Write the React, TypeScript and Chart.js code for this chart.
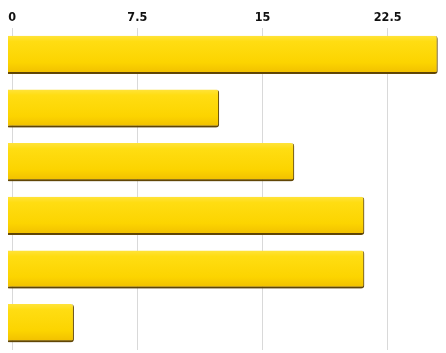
import React, { useEffect, useRef } from "react";
import { Chart, registerables } from "chart.js";

Chart.register(...registerables);

const categories = ["A", "B", "C", "D", "E", "F"];
const values = [25.5, 12.4, 16.9, 21.1, 21.1, 3.7];
const tickValues = [0, 7.5, 15, 22.5];
const axisMin = -0.25;
const axisMax = 26;

const shadowPlugin = {
  id: "barShadow",
  beforeDatasetsDraw(chart: any) {
    const ctx = chart.ctx;
    ctx.save();
    ctx.shadowColor = "rgba(70, 50, 0, 0.45)";
    ctx.shadowBlur = 2;
    ctx.shadowOffsetX = 1;
    ctx.shadowOffsetY = 1.5;
  },
  afterDatasetsDraw(chart: any) {
    chart.ctx.restore();
  },
};

export default function App() {
  const ref = useRef<HTMLCanvasElement | null>(null);

  useEffect(() => {
    if (!ref.current) return;
    const chart = new Chart(ref.current, {
      type: "bar",
      data: {
        labels: categories,
        datasets: [
          {
            data: values,
            base: axisMin,
            backgroundColor: (c: any) => {
              const ch = c.chart;
              const y = ch.scales?.y;
              if (!y || !ch.chartArea) return "#FFD60A";
              const center = y.getPixelForValue(c.dataIndex);
              const h = 38;
              const g = ch.ctx.createLinearGradient(0, center - h / 2, 0, center + h / 2);
              g.addColorStop(0, "#FFE33A");
              g.addColorStop(0.15, "#FFDD12");
              g.addColorStop(0.7, "#FCD400");
              g.addColorStop(1, "#F0BE00");
              return g;
            },
            borderColor: "#6B4E08",
            borderWidth: { top: 0, right: 1, bottom: 2, left: 0 },
            borderSkipped: "start",
            borderRadius: 3,
            barPercentage: 0.79,
            categoryPercentage: 0.9,
          } as any,
        ],
      },
      options: {
        indexAxis: "y",
        animation: false,
        responsive: true,
        maintainAspectRatio: false,
        layout: { padding: { top: 7, left: 8, right: 0, bottom: 3 } },
        plugins: {
          legend: { display: false },
          tooltip: { enabled: false },
        },
        scales: {
          x: {
            position: "top",
            min: axisMin,
            max: axisMax,
            afterBuildTicks: (axis: any) => {
              axis.ticks = tickValues.map((v) => ({ value: v }));
            },
            ticks: {
              color: "#111",
              padding: 3,
              font: { family: "'DejaVu Sans Condensed', 'DejaVu Sans'", size: 12.5, weight: "bold" },
              maxRotation: 0,
            },
            grid: { color: "#d9d9d9", lineWidth: 1, drawTicks: false },
            border: { display: false },
          },
          y: {
            display: false,
            grid: { display: false },
          },
        },
      } as any,
      plugins: [shadowPlugin],
    });
    return () => chart.destroy();
  }, []);

  return (
    <div style={{ position: "absolute", left: 0, top: 0, width: 446, height: 353, background: "#fff" }}>
      <canvas ref={ref} />
    </div>
  );
}
